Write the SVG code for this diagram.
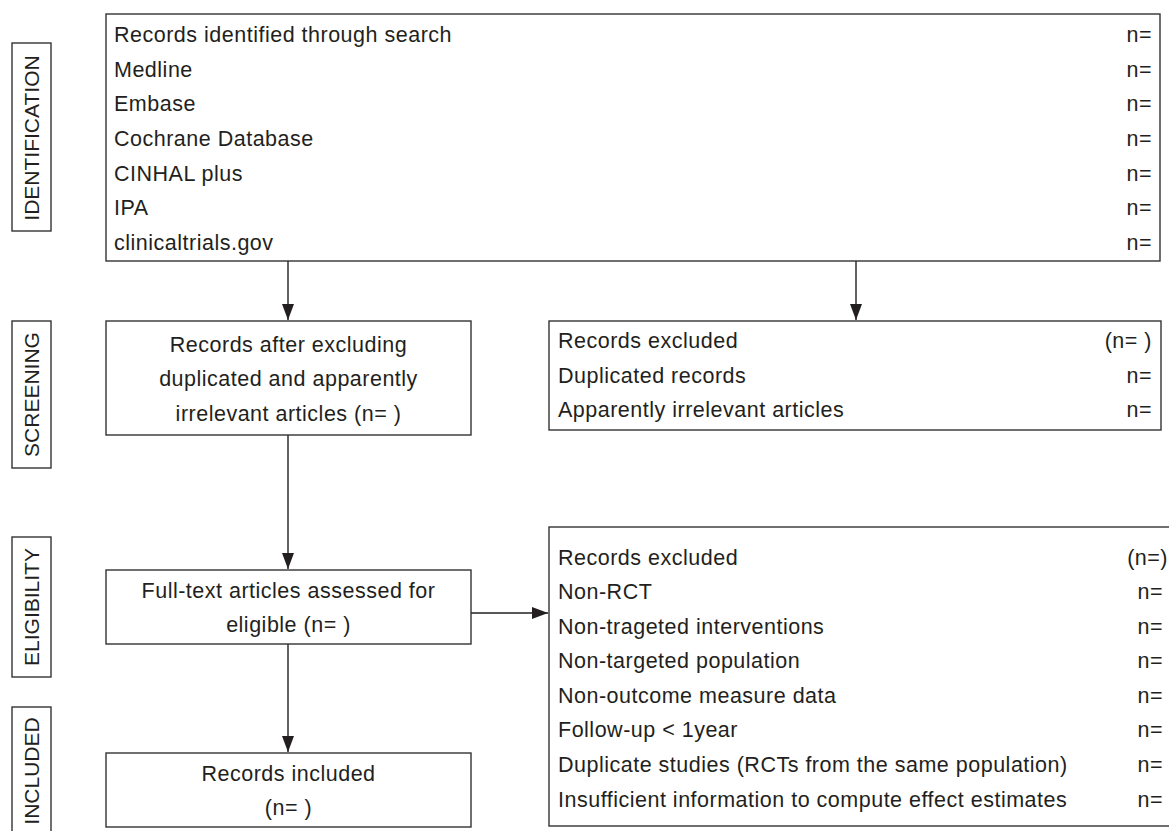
<svg xmlns="http://www.w3.org/2000/svg" width="1169" height="831" viewBox="0 0 1169 831">
<defs>
<style>
.box{fill:#fff;stroke:#333;stroke-width:1.4}
.t{font-family:"Liberation Sans",Arial,sans-serif;font-size:21.5px;letter-spacing:0.5px;fill:#231f20}
.c{text-anchor:middle}
.r{text-anchor:end}
.lab{font-family:"Liberation Sans",Arial,sans-serif;font-size:21px;fill:#231f20;text-anchor:middle}
.con{stroke:#231f20;stroke-width:1.4;fill:none}
</style>
<marker id="ah" viewBox="0 0 16 12" refX="16" refY="6" markerWidth="16" markerHeight="12" markerUnits="userSpaceOnUse" orient="auto">
<path d="M0,0 L16,6 L0,12 Z" fill="#231f20"/>
</marker>
</defs>
<rect width="1169" height="831" fill="#fff"/>

<g id="label-identification">
<rect class="box" x="12" y="43" width="39" height="188"/>
<text class="lab" transform="translate(39,138) rotate(-90)">IDENTIFICATION</text>
</g>
<g id="label-screening">
<rect class="box" x="12" y="321" width="39" height="147"/>
<text class="lab" transform="translate(39,394.5) rotate(-90)">SCREENING</text>
</g>
<g id="label-eligibility">
<rect class="box" x="12" y="537" width="39" height="140"/>
<text class="lab" transform="translate(39,607) rotate(-90)">ELIGIBILITY</text>
</g>
<g id="label-included">
<rect class="box" x="12" y="707" width="39" height="130"/>
<text class="lab" transform="translate(39,771) rotate(-90)">INCLUDED</text>
</g>

<g id="connectors">
<line class="con" x1="288" y1="261" x2="288" y2="320" marker-end="url(#ah)"/>
<line class="con" x1="856" y1="261" x2="856" y2="320" marker-end="url(#ah)"/>
<line class="con" x1="288" y1="435" x2="288" y2="569" marker-end="url(#ah)"/>
<line class="con" x1="288" y1="644" x2="288" y2="752" marker-end="url(#ah)"/>
<line class="con" x1="471" y1="613" x2="548" y2="613" marker-end="url(#ah)"/>
</g>

<g id="node-identified">
<rect class="box" x="106" y="14" width="1054" height="247"/>
<text class="t" x="114" y="42">Records identified through search</text>
<text class="t" x="114" y="77">Medline</text>
<text class="t" x="114" y="111">Embase</text>
<text class="t" x="114" y="146">Cochrane Database</text>
<text class="t" x="114" y="181">CINHAL plus</text>
<text class="t" x="114" y="215">IPA</text>
<text class="t" x="114" y="250">clinicaltrials.gov</text>
<text class="t r" x="1152" y="42">n=</text>
<text class="t r" x="1152" y="77">n=</text>
<text class="t r" x="1152" y="111">n=</text>
<text class="t r" x="1152" y="146">n=</text>
<text class="t r" x="1152" y="181">n=</text>
<text class="t r" x="1152" y="215">n=</text>
<text class="t r" x="1152" y="250">n=</text>
</g>

<g id="node-screened">
<rect class="box" x="106" y="321" width="365" height="114"/>
<text class="t c" x="288.5" y="352">Records after excluding</text>
<text class="t c" x="288.5" y="386">duplicated and apparently</text>
<text class="t c" x="288.5" y="421">irrelevant articles (n= )</text>
</g>

<g id="node-excluded-screening">
<rect class="box" x="549" y="321" width="612" height="109"/>
<text class="t" x="558" y="348">Records excluded</text>
<text class="t" x="558" y="383">Duplicated records</text>
<text class="t" x="558" y="417">Apparently irrelevant articles</text>
<text class="t r" x="1152" y="348">(n= )</text>
<text class="t r" x="1152" y="383">n=</text>
<text class="t r" x="1152" y="417">n=</text>
</g>

<g id="node-eligibility">
<rect class="box" x="106" y="570" width="365" height="74"/>
<text class="t c" x="288.5" y="598">Full-text articles assessed for</text>
<text class="t c" x="288.5" y="632">eligible (n= )</text>
</g>

<g id="node-excluded-eligibility">
<rect class="box" x="549" y="527" width="630" height="299"/>
<text class="t" x="558" y="565">Records excluded</text>
<text class="t" x="558" y="599">Non-RCT</text>
<text class="t" x="558" y="634">Non-trageted interventions</text>
<text class="t" x="558" y="668">Non-targeted population</text>
<text class="t" x="558" y="703">Non-outcome measure data</text>
<text class="t" x="558" y="737">Follow-up &lt; 1year</text>
<text class="t" x="558" y="772">Duplicate studies (RCTs from the same population)</text>
<text class="t" x="558" y="807">Insufficient information to compute effect estimates</text>
<text class="t r" x="1168" y="565">(n=)</text>
<text class="t r" x="1163" y="599">n=</text>
<text class="t r" x="1163" y="634">n=</text>
<text class="t r" x="1163" y="668">n=</text>
<text class="t r" x="1163" y="703">n=</text>
<text class="t r" x="1163" y="737">n=</text>
<text class="t r" x="1163" y="772">n=</text>
<text class="t r" x="1163" y="807">n=</text>
</g>

<g id="node-included">
<rect class="box" x="106" y="753" width="365" height="74"/>
<text class="t c" x="288.5" y="781">Records included</text>
<text class="t c" x="288.5" y="815">(n= )</text>
</g>
</svg>
